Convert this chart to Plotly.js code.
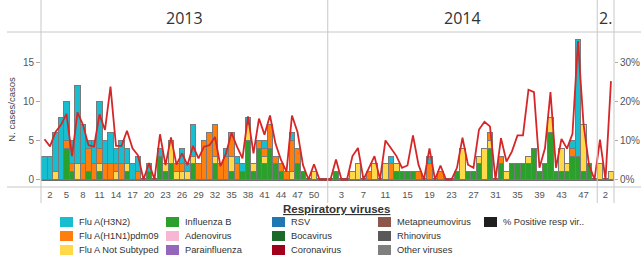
<!DOCTYPE html>
<html><head><meta charset="utf-8">
<script src="https://cdn.plot.ly/plotly-3.0.1.min.js"></script>
<style>html,body{margin:0;padding:0;background:#fff;}#chart{width:641px;height:257px;}</style>
</head><body><div id="chart"></div>
<script>
// ---------- data ----------
const years = ['2013', '2014', '2015'];
const yearHeaders = ['2013', '2014', '2.'];
const weeksPerYear = [52, 49, 3];
const tickWeeks2013 = [2,5,8,11,14,17,20,23,26,29,32,35,38,41,44,47,50];
const tickWeeks2014 = [3,7,11,15,19,23,27,31,35,39,43,47];
const tickWeeks2015 = [2];
const pctTicks = [0, 10, 20, 30];
const countTicks = [0, 5, 10, 15];

const fluB_2013 = [0,0,0,0,4,1,0,0,1,0, 1,0,0,0,0,1,0,0,0,1, 0,3,1,2,0,0,0,2,0,0, 0,2,0,0,1,0,1,5,1,4, 2,4,2,1,0,0,2,1,0,0, 0,0];
const fluNS_2013 = [0,0,1,0,0,0,2,0,0,0, 1,0,0,1,0,1,0,0,0,0, 0,0,1,3,1,1,1,1,0,0, 0,1,0,0,2,0,0,2,1,0, 1,0,0,0,0,1,0,0,0,1, 0,0];
const fluH1_2013 = [0,0,0,0,1,1,0,2,3,2, 2,2,2,1,2,0,0,1,0,0, 0,0,0,0,1,1,0,0,2,5, 6,4,2,3,3,2,0,0,0,1, 1,3,1,1,1,4,2,0,0,0, 0,0];
const fluH3_2013 = [3,3,5,8,5,3,10,5,1,3, 6,3,4,2,3,2,2,2,0,1, 0,1,0,0,0,2,1,4,0,0, 0,0,0,1,0,1,1,1,0,0, 1,0,0,0,0,1,0,0,0,0, 0,0];
const pctPos_2013 = [10.3,8.5,12.2,14,16.8,6,17.2,14,8.8,8.4, 16.7,12.7,23.8,8.6,8.6,12.5,8,6.2,0,4.2, 0,11.6,3.7,10.8,3.8,6.7,3.7,8.6,5.4,8.4, 8.8,10.9,3.4,6.7,12,8.4,5.4,16.2,6.7,15.6, 11.5,16.4,9.2,5,2,16.4,12.2,3.7,0,3.9, 0,0];

const fluB_2014 = [0,1,0,0,0,0,0,0,0,0, 0,0,1,1,1,1,0,0,0,0, 0,0,0,1,0,1,1,2,0,4, 0,2,0,2,2,2,2,4,1,2, 6,1,1,1,3,3,1,2,0];
const fluNS_2014 = [0,0,0,0,1,2,0,0,2,0, 2,0,1,0,0,0,0,0,0,0, 0,0,0,0,4,0,0,1,4,1, 0,0,1,0,0,0,1,0,0,0, 2,0,3,1,0,0,6,0,0];
const fluH1_2014 = [0,0,0,0,0,0,0,1,0,0, 0,2,0,0,0,0,1,0,2,0, 1,0,0,0,0,0,0,0,0,1, 0,1,0,0,0,0,0,0,0,0, 0,0,0,0,1,0,0,0,0];
const fluH3_2014 = [0,0,0,0,0,0,0,0,0,0, 0,1,0,0,0,0,0,0,1,0, 0,0,0,0,0,0,0,0,0,0, 0,0,0,0,0,0,0,0,0,0, 0,0,0,0,1,15,0,0,0];
const pctPos_2014 = [0,5.1,0,0,6,8.1,0,3,6,0, 10,8,6,3,3.6,11.3,3.8,0,8,0, 3.6,0,0,3,10.7,3.8,3,12.8,14.8,13.6, 0,10.6,4.6,7.2,11.3,11.3,23,22.4,3,8, 22.4,3,10.4,7.9,11.7,35.5,14.3,3.8,0];

const fluB_2015 = [0,0,0];
const fluNS_2015 = [2,0,1];
const fluH1_2015 = [0,0,0];
const fluH3_2015 = [0,0,0];
const pctPos_2015 = [10.2,0,25.2];

const legendNames = ['Flu A(H3N2)','Flu A(H1N1)pdm09','Flu A Not Subtyped','Influenza B','Adenovirus','Parainfluenza','RSV','Bocavirus','Coronavirus','Metapneumovirus','Rhinovirus','Other viruses','% Positive resp vir..'];
const legendColors = ['#17becf','#ff7f0e','#ffd94a','#2ca02c','#f7b6d2','#9467bd','#1f77b4','#1b6a2c','#a0001c','#8c564b','#595959','#7f7f7f','#1f1f1f'];

// ---------- build ----------
const cats = [];
years.forEach((y, yi) => { for (let w = 1; w <= weeksPerYear[yi]; w++) cats.push(y + '-' + w); });
const cat = (y, w) => y + '-' + w;
const fluB = fluB_2013.concat(fluB_2014, fluB_2015);
const fluNS = fluNS_2013.concat(fluNS_2014, fluNS_2015);
const fluH1 = fluH1_2013.concat(fluH1_2014, fluH1_2015);
const fluH3 = fluH3_2013.concat(fluH3_2014, fluH3_2015);
const pctPos = pctPos_2013.concat(pctPos_2014, pctPos_2015);

const tickvals = tickWeeks2013.map(w => cat('2013', w)).concat(tickWeeks2014.map(w => cat('2014', w)), tickWeeks2015.map(w => cat('2015', w)));
const ticktext = tickWeeks2013.concat(tickWeeks2014, tickWeeks2015).map(String);

const W = 641, H = 257, ML = 41, MR = 27, MT = 32, MB = 70;
const PW = W - ML - MR, PH = H - MT - MB;
const xr = [-0.636, cats.length - 0.45];
const px2x = p => (p - ML) / PW;
const px2y = p => (H - MB - p) / PH;
const idx2x = i => (i - xr[0]) / (xr[1] - xr[0]);

const lineCol = '#c8c8c8';
const border = {color: '#7a7a7a', width: 1};
function barTrace(y, color, name) {
  return {type: 'bar', x: cats, y: y, name: name, marker: {color: color, line: border}, hoverinfo: 'skip', showlegend: false};
}
const traces = [
  barTrace(fluB, legendColors[3], legendNames[3]),
  barTrace(fluNS, legendColors[2], legendNames[2]),
  barTrace(fluH1, legendColors[1], legendNames[1]),
  barTrace(fluH3, legendColors[0], legendNames[0]),
  {type: 'scatter', mode: 'lines', x: cats, y: pctPos, yaxis: 'y2', line: {color: '#d62728', width: 1.8}, showlegend: false, hoverinfo: 'skip'}
];

const shapes = [];
const annotations = [];
// panel borders and separators
let start = 0;
const seps = [0];
weeksPerYear.forEach((n, i) => { start += n; seps.push(i < weeksPerYear.length - 1 ? idx2x(start - 0.5) : 1); });
seps.forEach(sx => shapes.push({type: 'line', xref: 'paper', yref: 'paper', x0: sx, x1: sx, y0: px2y(203), y1: px2y(0), line: {color: lineCol, width: 1}}));
[MT, H - MB].forEach(py => shapes.push({type: 'line', xref: 'paper', yref: 'paper', x0: px2x(7), x1: px2x(W), y0: px2y(py), y1: px2y(py), line: {color: lineCol, width: 1}}));
// year headers
yearHeaders.forEach((t, i) => annotations.push({xref: 'paper', yref: 'paper', x: (seps[i] + seps[i + 1]) / 2, y: px2y(18), text: t, showarrow: false, xanchor: 'center', yanchor: 'middle', font: {family: 'Open Sans, sans-serif', size: 16, color: '#333'}}));
// legend
annotations.push({xref: 'paper', yref: 'paper', x: px2x(336), y: px2y(209), text: '<b><u>Respiratory viruses</u></b>', showarrow: false, xanchor: 'center', yanchor: 'middle', font: {family: 'Liberation Sans, Arial, sans-serif', size: 11.5, color: '#333'}});
legendNames.forEach((nm, i) => {
  const col = Math.floor(i / 3), row = i % 3;
  const sx = 60 + col * 106, sy = 222 + row * 14;
  shapes.push({type: 'rect', xref: 'paper', yref: 'paper', x0: px2x(sx), x1: px2x(sx + 13), y0: px2y(sy - 5), y1: px2y(sy + 5), fillcolor: legendColors[i], line: {width: 0}});
  annotations.push({xref: 'paper', yref: 'paper', x: px2x(sx + 17), y: px2y(sy), text: nm, showarrow: false, xanchor: 'left', yanchor: 'middle', font: {family: 'Liberation Sans, Arial, sans-serif', size: 9.3, color: '#333'}});
});

const tickFont = {family: 'Liberation Sans, Arial, sans-serif', size: 10, color: '#555'};
const layout = {
  width: W, height: H,
  margin: {l: ML, r: MR, t: MT, b: MB, pad: 0},
  paper_bgcolor: '#fff', plot_bgcolor: '#fff',
  barmode: 'stack', bargap: 0,
  showlegend: false,
  xaxis: {type: 'category', categoryorder: 'array', categoryarray: cats, range: xr, tickvals: tickvals, ticktext: ticktext, tickangle: 0,
          showgrid: false, zeroline: false, showline: false, ticks: '', tickfont: {family: 'Liberation Sans, Arial, sans-serif', size: 9.5, color: '#555'}},
  yaxis: {range: [-0.96, 18.9], tickvals: countTicks, ticktext: countTicks.map(String), showgrid: false, showline: false, ticks: 'outside', ticklen: 4, tickcolor: '#aaa',
          zeroline: true, zerolinecolor: '#6b6b6b', zerolinewidth: 3, tickfont: tickFont,
          title: {text: 'N. cases/casos', font: {family: 'Liberation Sans, Arial, sans-serif', size: 9.5, color: '#444'}, standoff: 5}},
  yaxis2: {overlaying: 'y', side: 'right', range: [-1.92, 37.8], tickmode: 'array', tickvals: pctTicks, ticktext: pctTicks.map(v => v + '%'),
           showgrid: false, zeroline: false, showline: false, ticks: 'outside', ticklen: 3, tickcolor: '#aaa', tickfont: tickFont},
  shapes: shapes,
  annotations: annotations
};
Plotly.newPlot('chart', traces, layout, {staticPlot: true, displayModeBar: false});
</script></body></html>
